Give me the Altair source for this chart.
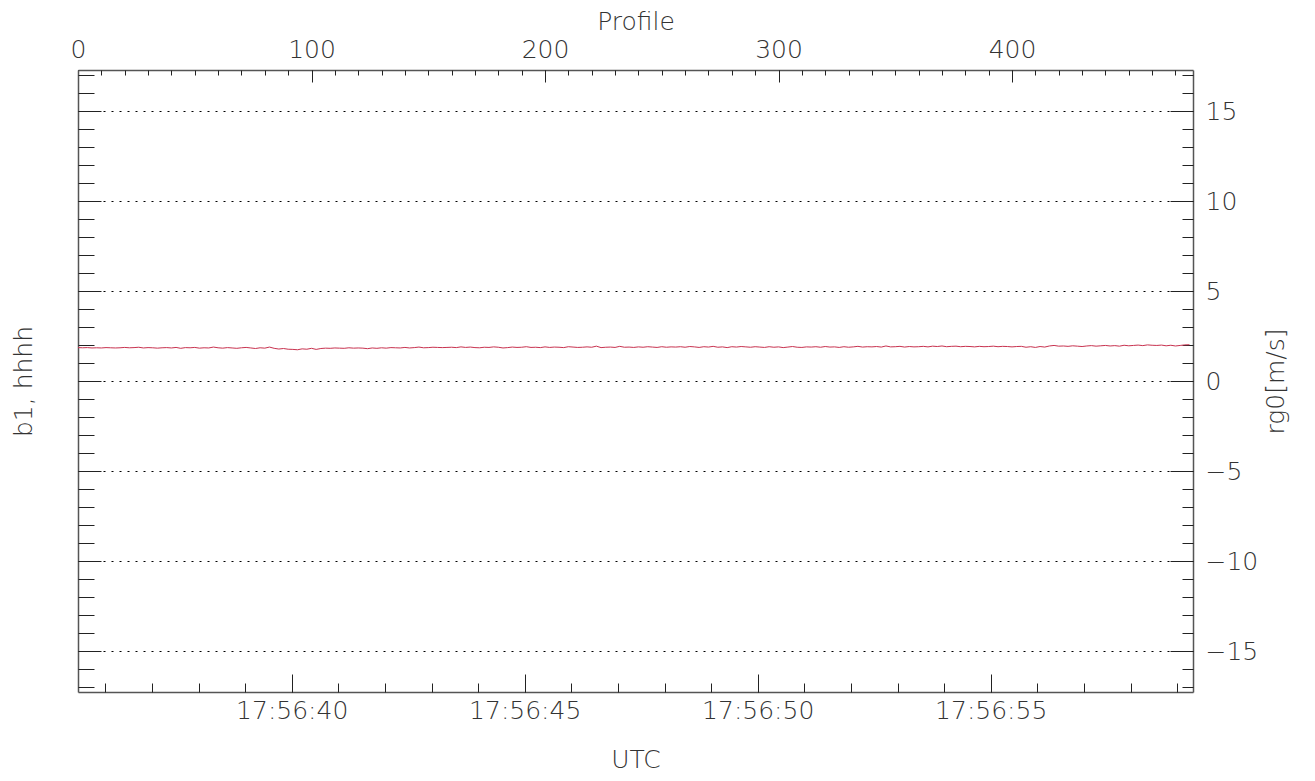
import altair as alt
import pandas as pd

FONT = "DejaVu Sans"
W, H = 1115, 622

# rg0 [m/s], one value every PROFILE_STEP profiles
PROFILE_STEP = 2
rg0_part1 = [
    1.88, 1.87, 1.88, 1.86, 1.87, 1.86, 1.88, 1.87, 1.86, 1.87,
    1.89, 1.87, 1.88, 1.90, 1.86, 1.88, 1.87, 1.85, 1.87, 1.88,
    1.86, 1.89, 1.84, 1.88, 1.87, 1.89, 1.85, 1.87, 1.86, 1.91,
    1.87, 1.85, 1.88, 1.86, 1.84, 1.87, 1.89, 1.86, 1.83, 1.87,
    1.85, 1.91, 1.84, 1.80, 1.83, 1.79, 1.78, 1.76, 1.81, 1.79,
    1.84, 1.78, 1.83, 1.85, 1.84, 1.86, 1.85, 1.84, 1.87, 1.85,
]
rg0_part2 = [
    1.86, 1.85, 1.82, 1.86, 1.84, 1.87, 1.85, 1.88, 1.87, 1.86,
    1.89, 1.86, 1.88, 1.91, 1.87, 1.88, 1.90, 1.89, 1.88, 1.89,
    1.90, 1.88, 1.92, 1.89, 1.91, 1.88, 1.87, 1.90, 1.89, 1.92,
    1.90, 1.86, 1.88, 1.91, 1.89, 1.90, 1.93, 1.89, 1.90, 1.88,
    1.92, 1.89, 1.91, 1.90, 1.88, 1.93, 1.91, 1.89, 1.90, 1.92,
    1.90, 1.96, 1.88, 1.90, 1.91, 1.89, 1.95, 1.90, 1.91, 1.89,
]
rg0_part3 = [
    1.92, 1.90, 1.93, 1.91, 1.89, 1.93, 1.90, 1.92, 1.91, 1.93,
    1.90, 1.94, 1.92, 1.89, 1.93, 1.91, 1.95, 1.90, 1.92, 1.88,
    1.93, 1.91, 1.94, 1.92, 1.90, 1.93, 1.91, 1.89, 1.93, 1.90,
    1.92, 1.88, 1.91, 1.94, 1.90, 1.89, 1.92, 1.91, 1.93, 1.90,
    1.94, 1.91, 1.92, 1.89, 1.93, 1.90, 1.92, 1.95, 1.91, 1.93,
    1.92, 1.94, 1.91, 1.97, 1.92, 1.93, 1.95, 1.91, 1.94, 1.92,
]
rg0_part4 = [
    1.93, 1.95, 1.92, 1.96, 1.94, 1.97, 1.93, 1.95, 1.96, 1.93,
    1.95, 1.94, 1.92, 1.95, 1.93, 1.94, 1.96, 1.93, 1.95, 1.94,
    1.92, 1.94, 1.95, 1.90, 1.93, 1.89, 1.94, 1.91, 1.97, 2.00,
    1.96, 1.97, 1.95, 1.98, 1.96, 1.94, 1.97, 1.99, 1.96, 1.98,
    2.00, 1.97, 1.99, 1.96, 2.01, 1.98, 2.00, 2.02, 1.99, 2.03,
    2.01, 2.00, 2.02, 1.98, 2.01, 1.97, 2.00, 2.03, 2.04,
]
rg0 = rg0_part1 + rg0_part2 + rg0_part3 + rg0_part4
profile = [i * PROFILE_STEP for i in range(len(rg0))]

profile_domain = [0, 477.5]
time_domain = [35.414, 59.341]          # seconds after 17:56
y_domain = [-17.25, 17.3]

profile_major = [0, 100, 200, 300, 400]
profile_minor = list(range(0, 480, 10))
time_major = [40, 45, 50, 55]
time_minor = list(range(36, 60))
y_major = [-15, -10, -5, 0, 5, 10, 15]
y_minor = list(range(-17, 18))

df = pd.DataFrame({"profile": profile, "rg0": rg0})
tdf = pd.DataFrame({"sec": time_domain})

TXT = dict(labelFont=FONT, labelFontSize=25, labelFontWeight=200, labelColor="#333",
           titleFont=FONT, titleFontSize=25, titleFontWeight=200, titleColor="#333")
FRAME = dict(domain=True, domainColor="#555", domainWidth=1.5)


def tick_axis(orient, offset, values, size):
    return alt.Axis(orient=orient, offset=offset, values=values, ticks=True,
                    tickSize=size, tickColor="#222", tickWidth=1, labels=False,
                    domain=False, grid=False, title="")


def pscale():
    return alt.Scale(domain=profile_domain, nice=False, zero=False)


def tscale():
    return alt.Scale(domain=time_domain, nice=False, zero=False)


def yscale():
    return alt.Scale(domain=y_domain, nice=False, zero=False)


def xlayer(data, field, scale, axis):
    return alt.Chart(data).mark_point(opacity=0).encode(
        x=alt.X(f"{field}:Q", scale=scale, axis=axis))


def ylayer(axis):
    return alt.Chart(df).mark_point(opacity=0).encode(
        y=alt.Y("rg0:Q", scale=yscale(), axis=axis))


# top: Profile labels + frame line
axis_profile = alt.Axis(orient="top", values=profile_major, ticks=False, tickSize=0,
                        labelPadding=8, labelFlush=False, title="Profile",
                        titlePadding=3, grid=False, **FRAME, **TXT)
# right: rg0 labels, frame line and dotted grid
axis_rg0 = alt.Axis(orient="right", values=y_major, ticks=False, tickSize=0,
                    labelPadding=12, labelFlush=False, title="rg0[m/s]",
                    titleAngle=270, titlePadding=31, grid=True, gridDash=[2, 6],
                    gridColor="#000", gridWidth=1, gridOpacity=1, **FRAME, **TXT)

line = alt.Chart(df).mark_line(color="#c8324f", strokeWidth=1).encode(
    x=alt.X("profile:Q", scale=pscale(), axis=axis_profile),
    y=alt.Y("rg0:Q", scale=yscale(), axis=axis_rg0),
)

layers = [
    line,
    # top inward ticks
    xlayer(df, "profile", pscale(), tick_axis("bottom", -H, profile_major, 12)),
    xlayer(df, "profile", pscale(), tick_axis("bottom", -H, profile_minor, 5)),
    # bottom: UTC labels + frame
    xlayer(tdf, "sec", tscale(), alt.Axis(
        orient="bottom", values=time_major, ticks=False, tickSize=0,
        labelExpr="'17:56:' + datum.value", labelPadding=6, labelFlush=False,
        title="UTC", titlePadding=24, grid=False, **FRAME, **TXT)),
    # bottom inward ticks
    xlayer(tdf, "sec", tscale(), tick_axis("top", -H, time_major, 18)),
    xlayer(tdf, "sec", tscale(), tick_axis("top", -H, time_minor, 9)),
    # left: title + frame
    ylayer(alt.Axis(orient="left", labels=False, ticks=False, tickSize=0,
                    title="b1, hhhh", titlePadding=42, grid=False, **FRAME, **TXT)),
    # left inward ticks
    ylayer(tick_axis("right", -W, y_major, 23)),
    ylayer(tick_axis("right", -W, y_minor, 16)),
    # right inward ticks
    ylayer(tick_axis("left", -W, y_major, 23)),
    ylayer(tick_axis("left", -W, y_minor, 11)),
]

chart = (
    alt.layer(*layers)
    .resolve_scale(x="independent", y="independent")
    .resolve_axis(x="independent", y="independent")
    .properties(width=W, height=H,
                padding={"left": 70, "top": 62, "right": 112, "bottom": 84},
                autosize=alt.AutoSizeParams(type="none"),
                background="white")
    .configure_view(strokeOpacity=0)
)

chart.save("out.html", embed_options={"renderer": "svg", "actions": False})
